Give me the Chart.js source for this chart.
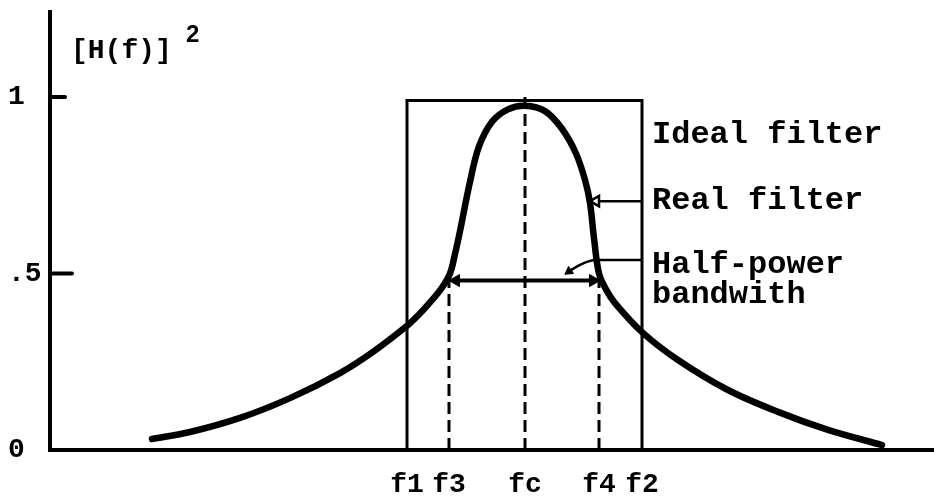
<!DOCTYPE html>
<html><head><meta charset="utf-8">
<script src="https://cdn.jsdelivr.net/npm/chart.js@4/dist/chart.umd.min.js"></script>
<style>html,body{margin:0;padding:0;background:#fff}canvas{display:block}</style>
</head><body>
<canvas id="c" width="934" height="499"></canvas>
<script>
// ---- data (frequency in arbitrary units, power in [H(f)]^2) ----
const freqNames  = ['f1', 'f3', 'fc', 'f4', 'f2'];
const freqValues = [35.7, 39.9, 47.5, 54.9, 59.2];
const yTickValues = [0, 0.5, 1];
const yTickLabels = ['0', '.5', '1'];

const realX = [10.2, 14.0, 19.0, 24.0, 29.0, 32.3, 35.8, 36.9, 38.0, 39.2, 40.0, 40.5, 41.0, 42.0, 42.9, 44.2, 45.8, 47.5, 49.5, 51.2, 52.6, 53.5, 54.0, 54.4, 54.9, 55.6, 56.5, 59.2, 62.8, 67.8, 72.8, 77.8, 83.2];
const realY = [0.031, 0.051, 0.091, 0.147, 0.218, 0.278, 0.354, 0.384, 0.418, 0.46, 0.50, 0.555, 0.62, 0.76, 0.86, 0.93, 0.965, 0.975, 0.96, 0.91, 0.84, 0.765, 0.70, 0.60, 0.50, 0.455, 0.416, 0.334, 0.255, 0.17, 0.108, 0.057, 0.014];

const idealLevel = 0.99;       // ideal filter pass level
const halfPowerLevel = 0.48;   // double arrow level
const fcDashTop = 1.0;

const realArrowX = [59.3, 54.6];
const realArrowY = [0.705, 0.705];
const halfArrowX = [59.3, 54.6, 53.1, 51.9];
const halfArrowY = [0.538, 0.538, 0.526, 0.506];

const annotationTexts = ['Ideal filter', 'Real filter', 'Half-power', 'bandwith'];
const yTitle = '[H(f)]';
const yTitleSup = '2';

// ---- chart ----
const MONO = '"Liberation Mono", "Courier New", monospace';
const pts = (xs, ys) => xs.map((x, i) => ({x: x, y: ys[i]}));
const black = '#000';

const extras = {
  id: 'extras',
  afterDatasetsDraw(chart) {
    const ctx = chart.ctx;
    const xs = chart.scales.x, ys = chart.scales.y;
    ctx.save();
    // inward tick stubs on the y axis at .5 and 1
    ctx.strokeStyle = black; ctx.lineWidth = 4; ctx.lineCap = 'round';
    [[0.5, 2.2], [1, 1.5]].forEach(([v, len]) => {
      ctx.beginPath();
      ctx.moveTo(xs.getPixelForValue(0), ys.getPixelForValue(v));
      ctx.lineTo(xs.getPixelForValue(len), ys.getPixelForValue(v));
      ctx.stroke();
    });
    // annotation texts
    ctx.fillStyle = black;
    ctx.textBaseline = 'alphabetic';
    ctx.textAlign = 'left';
    ctx.font = 'bold 32px ' + MONO;
    const tx = xs.getPixelForValue(60.2);
    const tyVals = [0.87, 0.683, 0.501, 0.416];
    annotationTexts.forEach((t, i) => ctx.fillText(t, tx, ys.getPixelForValue(tyVals[i])));
    // y title
    ctx.font = 'bold 28px ' + MONO;
    ctx.fillText(yTitle, xs.getPixelForValue(2.1), ys.getPixelForValue(1.11));
    ctx.font = 'bold 24px "Liberation Sans", Arial, sans-serif';
    ctx.fillText(yTitleSup, xs.getPixelForValue(13.6), ys.getPixelForValue(1.157));
    ctx.restore();
  }
};

new Chart(document.getElementById('c'), {
  type: 'line',
  data: {
    datasets: [
      { label: 'Real filter', data: pts(realX, realY), borderColor: black, borderWidth: 6.5,
        tension: 0.35, pointRadius: 0, borderCapStyle: 'round', borderJoinStyle: 'round' },
      { label: 'Ideal filter', data: pts([freqValues[0], freqValues[0], freqValues[4], freqValues[4]], [0, idealLevel, idealLevel, 0]),
        borderColor: black, borderWidth: 3, pointRadius: 0, tension: 0 },
      { label: 'fc', data: pts([freqValues[2], freqValues[2]], [0, fcDashTop]), borderColor: black, borderWidth: 3,
        borderDash: [12, 6], pointRadius: 0 },
      { label: 'f3', data: pts([freqValues[1], freqValues[1]], [0, halfPowerLevel]), borderColor: black, borderWidth: 3,
        borderDash: [12, 6], pointRadius: 0 },
      { label: 'f4', data: pts([freqValues[3], freqValues[3]], [0, halfPowerLevel]), borderColor: black, borderWidth: 3,
        borderDash: [12, 6], pointRadius: 0 },
      { label: 'bandwidth', data: pts([freqValues[1] + 0.7, freqValues[3] - 0.6], [halfPowerLevel, halfPowerLevel]),
        borderColor: black, backgroundColor: black, borderWidth: 4, pointStyle: 'triangle', pointRadius: 7,
        rotation: [270, 90], pointBorderWidth: 1 },
      { label: 'real arrow', data: pts(realArrowX, realArrowY), borderColor: black, backgroundColor: '#fff', borderWidth: 2.5,
        pointStyle: 'triangle', pointRadius: [0, 6], rotation: [0, 270], pointBorderWidth: 2.5 },
      { label: 'half arrow', data: pts(halfArrowX, halfArrowY), borderColor: black, backgroundColor: black, borderWidth: 2.5,
        cubicInterpolationMode: 'monotone', pointStyle: 'triangle', pointRadius: [0, 0, 0, 5], rotation: [0, 0, 0, 235], pointBorderWidth: 1 }
    ]
  },
  options: {
    responsive: false, animation: false, devicePixelRatio: 1,
    layout: { autoPadding: false, padding: { top: 12, left: 8, right: 0, bottom: 0 } },
    plugins: { legend: { display: false }, tooltip: { enabled: false } },
    scales: {
      x: {
        type: 'linear', min: 0, max: 88.4,
        grid: { display: false, drawTicks: false },
        border: { display: true, color: black, width: 4 },
        afterBuildTicks: s => { s.ticks = freqValues.map(v => ({value: v})); },
        afterFit: s => { s.height = 49; s.paddingLeft = 0; s.paddingRight = 0; },
        ticks: { autoSkip: false, maxRotation: 0, padding: 18, color: black,
          font: { family: MONO, size: 28, weight: 'bold' },
          callback: (v, i) => freqNames[i] }
      },
      y: {
        type: 'linear', min: 0, max: 1.2408,
        grid: { display: false, drawTicks: false },
        border: { display: true, color: black, width: 4 },
        afterBuildTicks: s => { s.ticks = yTickValues.map(v => ({value: v})); },
        afterFit: s => { s.width = 42; s.paddingTop = 0; s.paddingBottom = 0; },
        ticks: { crossAlign: 'far', padding: 0, color: black,
          font: { family: MONO, size: 28, weight: 'bold' },
          callback: (v, i) => yTickLabels[i] }
      }
    }
  },
  plugins: [extras]
});
</script>
</body></html>
